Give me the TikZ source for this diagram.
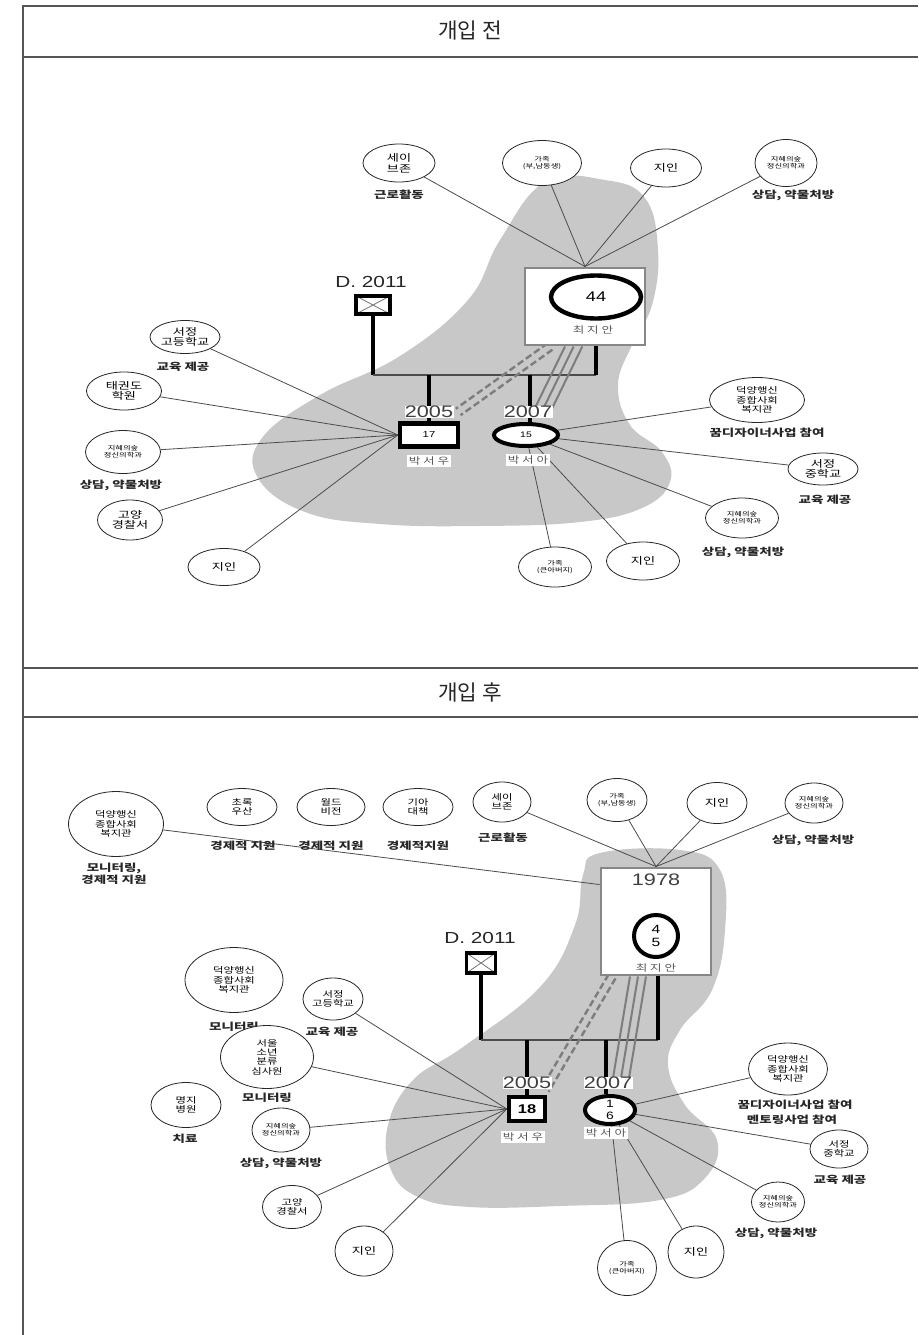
\documentclass[tikz,border=0pt]{standalone}
\usepackage{fontspec}
\setmainfont{Noto Sans CJK KR}
\newfontfamily\krw{Noto Sans CJK KR}[FakeStretch=1.35]
\newfontfamily\arw{Liberation Sans}[FakeStretch=1.3]
\usetikzlibrary{shapes.geometric}
\definecolor{blobc}{RGB}{200,200,200}
\definecolor{framec}{RGB}{85,85,85}
\definecolor{tripc}{RGB}{125,125,125}
\definecolor{boxc}{RGB}{135,135,135}
\pgfdeclarelayer{blob}
\pgfdeclarelayer{links}
\pgfsetlayers{blob,links,main}
\tikzset{
  eco/.style 2 args={draw=black!85, line width=0.6pt, ellipse, fill=white, inner sep=-2pt,
    minimum width={#1*0.75pt}, minimum height={#2*0.75pt}, align=center,
    font=\krw\fontsize{7.3}{8}\selectfont},
  stxt/.style={font=\krw\fontsize{6.3}{7}\selectfont},
  ttxt/.style={font=\krw\fontsize{4.6}{5.4}\selectfont},
  lab/.style={font=\krw\bfseries\fontsize{7.5}{9}\selectfont, align=center, inner sep=0pt, text=black!85},
  pname/.style={font=\krw\fontsize{7}{8}\selectfont, text=black!65, fill=white, inner sep=1pt},
  yr/.style={font=\arw\fontsize{12.5}{12.5}\selectfont, text=black!75, fill=white, inner sep=0.3pt},
  link/.style={draw=black!70, line width=0.6pt},
  gline/.style={draw=black, line width=3pt},
  hline/.style={draw=black!70, line width=2pt},
  trip/.style={draw=tripc, line width=1.5pt},
  dd/.style={draw=tripc, line width=1.8pt, dash pattern=on 5pt off 2.5pt},
  pbox/.style 2 args={rectangle, draw=boxc, line width=2.2pt, fill=white, inner sep=0pt,
    minimum width={#1*0.75pt}, minimum height={#2*0.75pt}},
  pcirc/.style 2 args={ellipse, draw=black, line width=3.3pt, fill=white, inner sep=0pt,
    minimum width={#1*0.75pt}, minimum height={#2*0.75pt}, align=center},
  kbox/.style 2 args={rectangle, draw=black, line width=3.3pt, fill=white, inner sep=0pt,
    minimum width={#1*0.75pt}, minimum height={#2*0.75pt}},
  dbox/.style 2 args={rectangle, draw=black, line width=2.6pt, fill=white, inner sep=0pt,
    minimum width={#1*0.75pt}, minimum height={#2*0.75pt},
    path picture={\draw[black!55, line width=0.6pt]
      (path picture bounding box.north west) -- (path picture bounding box.south east)
      (path picture bounding box.north east) -- (path picture bounding box.south west);}},
  ttl/.style={font=\fontsize{16}{16}\selectfont, text=black!85},
  frm/.style={draw=framec, line width=2pt},
}
\begin{document}
\begin{tikzpicture}[x=0.75pt, y=-0.75pt]
\useasboundingbox (0,0) rectangle (918,1335);

% ---------- background and blobs ----------
\begin{pgfonlayer}{blob}
\fill[white] (0,0) rectangle (918,1335);
\fill[blobc] plot[smooth cycle, tension=0.7] coordinates {
  (545,182) (605,180) (645,198) (658,250) (652,305) (632,345) (618,385) (630,425)
  (662,452) (670,482) (642,508) (580,522) (480,526) (380,524) (305,512) (258,478)
  (262,438) (320,395) (400,356) (468,300) (500,240)};
\fill[blobc] plot[smooth cycle, tension=0.7] coordinates {
  (600,853) (680,850) (720,870) (725,930) (712,990) (680,1030) (668,1065) (685,1105)
  (717,1140) (705,1178) (660,1200) (560,1206) (470,1207) (418,1197) (391,1170)
  (388,1125) (413,1080) (463,1047) (540,987) (575,925) (583,875)};
\end{pgfonlayer}

% ---------- frame ----------
\draw[frm] (23,1335) -- (23,6) -- (918,6);
\draw[frm] (23,57) -- (918,57);
\draw[frm] (23,668) -- (918,668);
\draw[frm] (23,717) -- (918,717);
\node[ttl] (title1) at (470,31) {개입 전};
\node[ttl] (title2) at (470,692) {개입 후};

% ================= BEFORE =================
\node[pbox={120}{77}] (b44) at (585,306.5) {};
\node[pcirc={90}{43}, font=\arw\fontsize{10.5}{11}\selectfont] (m44) at (596,297) {44};
\node[pname, fill=none] (n44) at (593,330) {최 지 안};

\node[font=\arw\fontsize{12}{12}\selectfont, text=black!85] (dt1) at (371,282) {D. 2011};
\node[dbox={34}{18}] (d1) at (373,305) {};

\node[kbox={58}{23}, font=\arw\fontsize{6.5}{7}\selectfont] (c17) at (429,435) {17};
\node[pcirc={64}{22}, line width=3pt, font=\arw\fontsize{6}{7}\selectfont] (c15) at (526,435) {15};

\coordinate (hl) at (373,375);
\coordinate (hr) at (596,375);
\begin{pgfonlayer}{links}
\draw[gline] (d1.south) -- (d1.south |- hl);
\draw[hline] (d1.south |- hl) -- (hr);
\draw[gline] (b44.south -| hr) -- (hr);
\draw[gline] (hl -| c17) -- (c17.north);
\draw[gline] ([xshift=3pt]hl -| c15) -- ([xshift=3pt]c15.north);
\foreach \a/\b in {-15/5, -8.5/11.5, -2/18}
  \draw[trip] ([xshift=\a pt]b44.south) -- ([shift={(\b pt,7pt)}]c15.north);
\draw[dd] ([shift={(-26.25pt+1.8pt,-2.4pt)}]b44.south) -- ([shift={(-1.5pt+1.8pt,7pt-2.4pt)}]c17.north east);
\draw[dd] ([shift={(-26.25pt-1.8pt,2.4pt)}]b44.south) -- ([shift={(-1.5pt-1.8pt,7pt+2.4pt)}]c17.north east);
\end{pgfonlayer}
\node[yr] (y05) at (429,412) {2005};
\node[yr] (y07) at (528,412) {2007};
\node[pname] (n17) at (429,461) {박 서 우};
\node[pname] (n15) at (528,460) {박 서 아};

% top ecomap
\node[eco={72}{38}] (tse) at (399,163) {세이\\브존};
\node[lab] (tsel) at (399,195) {근로활동};
\node[eco={79}{45}, ttxt] (tfa) at (542,163) {가족\\(부,남동생)};
\node[eco={71}{38}] (tji) at (666,168) {지인};
\node[eco={62}{47}, ttxt] (tps) at (786,163) {지혜의숲\\정신의학과};
\node[lab] (tpsl) at (793,195) {상담, 약물처방};

% left of 17
\node[eco={70}{33}] (tsg) at (185,337) {서정\\고등학교};
\node[lab] (tsgl) at (183,367) {교육 제공};
\node[eco={75}{38}] (ttk) at (124,391) {태권도\\학원};
\node[eco={75}{43}, ttxt] (tps3) at (123,452) {지혜의숲\\정신의학과};
\node[lab] (tps3l) at (121,485) {상담, 약물처방};
\node[eco={65}{40}] (tgy) at (130,520) {고양\\경찰서};
\node[eco={72}{37}] (tji3) at (224,567) {지인};

% right of 15
\node[eco={95}{45}, stxt] (tdy) at (757,400) {덕양행신\\종합사회\\복지관};
\node[lab] (tdyl) at (767,433) {꿈디자이너사업 참여};
\node[eco={70}{32}] (tsj) at (823,469) {서정\\중학교};
\node[lab] (tsjl) at (825,500) {교육 제공};
\node[eco={73}{40}, ttxt] (tps2) at (742,518) {지혜의숲\\정신의학과};
\node[lab] (tps2l) at (743,552) {상담, 약물처방};
\node[eco={73}{38}] (tji2) at (643,561) {지인};
\node[eco={73}{40}, ttxt] (tga) at (555,567) {가족\\(큰아버지)};

\begin{pgfonlayer}{links}
\foreach \n in {tse,tfa,tji,tps} \draw[link] (\n) -- (b44.north);
\foreach \n in {tsg,ttk,tps3,tgy,tji3} \draw[link] (\n) -- (c17.west);
\foreach \n in {tdy,tsj,tps2,tji2,tga} \draw[link] (\n) -- (c15);
\end{pgfonlayer}

% ================= AFTER =================
\node[pbox={110}{107}] (b78) at (656,921.5) {};
\node[yr, fill=none] (y78) at (656,880) {1978};
\node[pcirc={44}{42}, line width=3pt, font=\arw\fontsize{9}{9.5}\selectfont] (m45) at (656,936) {4\\5};
\node[pname, fill=none] (n78) at (656,968) {최 지 안};

\node[font=\arw\fontsize{12}{12}\selectfont, text=black!85] (dt2) at (480,938) {D. 2011};
\node[dbox={29}{20}] (d2) at (481,963) {};

\node[kbox={36}{24}, font=\arw\bfseries\fontsize{9.5}{10}\selectfont] (c18) at (527,1109) {18};
\node[pcirc={50}{28}, line width=3pt, font=\arw\fontsize{8}{8.5}\selectfont] (c16) at (610,1110) {1\\6};

\coordinate (hl2) at (482,1040);
\coordinate (hr2) at (658,1040);
\begin{pgfonlayer}{links}
\draw[gline] (d2.south) -- (d2.south |- hl2);
\draw[hline] (d2.south |- hl2) -- (hr2);
\draw[gline] (b78.south -| hr2) -- (hr2);
\draw[gline] (hl2 -| c18) -- (c18.north);
\draw[gline] ([xshift=-3pt]hl2 -| c16) -- ([xshift=-3pt]c16.north);
\foreach \a/\b in {-19.5/1.5, -13.5/7.5, -7.5/13.5}
  \draw[trip] ([xshift=\a pt]b78.south) -- ([shift={(\b pt,7.5pt)}]c16.north);
\draw[dd] ([shift={(-33pt+2.6pt,-1.5pt)}]b78.south) -- ([shift={(-1.5pt+2.6pt,3.75pt-1.5pt)}]c18.north east);
\draw[dd] ([shift={(-33pt-2.6pt,1.5pt)}]b78.south) -- ([shift={(-1.5pt-2.6pt,3.75pt+1.5pt)}]c18.north east);
\end{pgfonlayer}
\node[yr] (y05b) at (527,1083) {2005};
\node[yr] (y07b) at (608,1083) {2007};
\node[pname] (n18) at (523,1137) {박 서 우};
\node[pname] (n16) at (606,1133) {박 서 아};

% top row
\node[eco={95}{65}, stxt] (bdy1) at (116,824) {덕양행신\\종합사회\\복지관};
\node[lab] (bdy1l) at (114,874) {모니터링,\\경제적 지원};
\node[eco={70}{37}, stxt] (bcr) at (242,807) {초록\\우산};
\node[lab] (bcrl) at (243,846) {경제적 지원};
\node[eco={68}{37}, stxt] (bwv) at (331,807) {월드\\비전};
\node[lab] (bwvl) at (331,846) {경제적 지원};
\node[eco={70}{37}, stxt] (bgd) at (418,807) {기아\\대책};
\node[lab] (bgdl) at (418,846) {경제적지원};
\node[eco={58}{40}, stxt] (bse) at (502,802) {세이\\브존};
\node[lab] (bsel) at (503,838) {근로활동};
\node[eco={60}{43}, ttxt] (bfa) at (617,800) {가족\\(부,남동생)};
\node[eco={60}{41}] (bji) at (717,803) {지인};
\node[eco={58}{40}, ttxt] (bps) at (814,803) {지혜의숲\\정신의학과};
\node[lab] (bpsl) at (813,840) {상담, 약물처방};

% left of 18
\node[eco={98}{65}, stxt] (bdy2) at (234,980) {덕양행신\\종합사회\\복지관};
\node[lab] (bdy2l) at (234,1027) {모니터링};
\node[eco={60}{42}, stxt] (bsg) at (333,999) {서정\\고등학교};
\node[lab] (bsgl) at (332,1032) {교육 제공};
\node[eco={93}{63}, stxt] (bso) at (267,1057) {서울\\소년\\분류\\심사원};
\node[lab] (bsol) at (267,1098) {모니터링};
\node[eco={70}{45}, stxt] (bmj) at (186,1105) {명지\\병원};
\node[lab] (bmjl) at (185,1139) {치료};
\node[eco={58}{44}, ttxt] (bps2) at (281,1130) {지혜의숲\\정신의학과};
\node[lab] (bps2l) at (281,1163) {상담, 약물처방};
\node[eco={59}{43}, stxt] (bgy) at (292,1207) {고양\\경찰서};
\node[eco={58}{50}] (bji2) at (364,1251) {지인};

% right of 16
\node[eco={79}{52}, stxt] (bdy3) at (788,1069) {덕양행신\\종합사회\\복지관};
\node[lab] (bdy3l) at (795,1105) {꿈디자이너사업 참여};
\node[lab] (bdy3m) at (792,1120) {멘토링사업 참여};
\node[eco={58}{38}, stxt] (bsj) at (839,1149) {서정\\중학교};
\node[lab] (bsjl) at (840,1180) {교육 제공};
\node[eco={53}{40}, ttxt] (bps3) at (778,1202) {지혜의숲\\정신의학과};
\node[lab] (bps3l) at (776,1233) {상담, 약물처방};
\node[eco={56}{52}] (bji3) at (696,1252) {지인};
\node[eco={59}{55}, ttxt] (bga) at (627,1268) {가족\\(큰아버지)};

\begin{pgfonlayer}{links}
\foreach \n in {bse,bfa,bji,bps} \draw[link] (\n) -- (b78.north);
\draw[link] (bdy1) -- ([yshift=-13.5pt]b78.north west);
\foreach \n in {bsg,bso,bps2,bgy,bji2} \draw[link] (\n) -- (c18.west);
\foreach \n in {bdy3,bsj,bps3,bji3,bga} \draw[link] (\n) -- (c16);
\end{pgfonlayer}
\end{tikzpicture}
\end{document}
